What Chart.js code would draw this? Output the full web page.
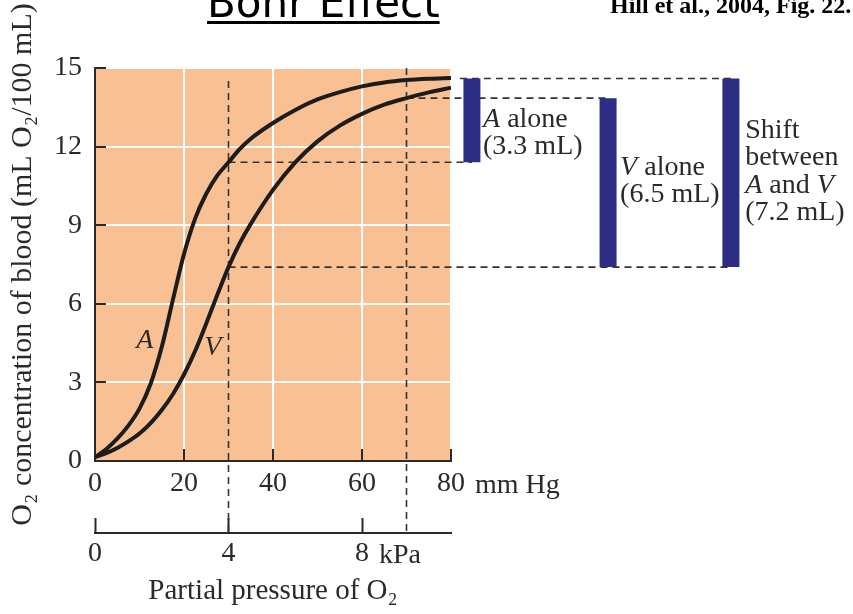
<!DOCTYPE html>
<html><head><meta charset="utf-8">
<script src="https://cdn.jsdelivr.net/npm/chart.js@4.4.0/dist/chart.umd.min.js"></script>
<style>html,body{margin:0;padding:0;background:#fff;overflow:hidden}canvas{display:block}</style>
</head><body>
<canvas id="c" width="853" height="614"></canvas>
<script>
// ---- data ----
const pO2 = [0, 2.5, 5, 7.5, 10, 12.5, 15, 17.5, 20, 22.5, 25, 27.5, 30, 32.5, 35, 40, 45, 50, 55, 60, 65, 70, 75, 80]; // mm Hg
const arterialA = [0.15, 0.45, 0.85, 1.35, 2.0, 2.95, 4.35, 6.15, 7.9, 9.25, 10.2, 10.9, 11.4, 11.9, 12.3, 12.9, 13.4, 13.8, 14.08, 14.3, 14.45, 14.54, 14.59, 14.62];
const venousV  = [0.15, 0.3, 0.5, 0.75, 1.05, 1.45, 1.95, 2.55, 3.3, 4.2, 5.25, 6.35, 7.4, 8.3, 9.05, 10.35, 11.4, 12.2, 12.8, 13.25, 13.6, 13.85, 14.07, 14.25];
const mmHgTicks = [0, 20, 40, 60, 80];
const kPaTicks = [0, 4, 8];
const yTicks = [0, 3, 6, 9, 12, 15];
const mmHgPerKPa = 7.5;
// reference guides (mm Hg) and their top level (mL O2/100 mL)
const guideX = [30, 70];
const guideTop = [14.5, 15];
// dashed level lines: level, from x, to x
const hLevels = [14.6, 13.85, 11.4, 7.4];
const hFrom = [82, 70, 30, 30];
const hTo = [142.9, 115.3, 84.7, 142.9];
// difference bars: x position (in mm Hg units, right of plot), low, high
const barNames = ['A alone', 'V alone', 'Shift between A and V'];
const barX = [84.7, 115.3, 142.9];
const barLow = [11.4, 7.4, 7.4];
const barHigh = [14.6, 13.85, 14.6];

const ink = '#2a2a2a';
const serif = "'Liberation Serif', 'Times New Roman', serif";
const navy = '#2d2e83';
const peach = '#f8c093';

// annotation texts: anchor (x in mm Hg, first baseline in mL), lines of [text, italic]
const notes = [
  {x: 87.2, y: 12.75, lines: [[['A', 1], [' alone', 0]], [['(3.3 mL)', 0]]]},
  {x: 118.0, y: 10.92, lines: [[['V', 1], [' alone', 0]], [['(6.5 mL)', 0]]]},
  {x: 146.1, y: 12.33, lines: [[['Shift', 0]], [['between', 0]], [['A', 1], [' and ', 0], ['V', 1]], [['(7.2 mL)', 0]]]}
];
const curveLabels = [{t: 'A', x: 11.2, y: 4.3}, {t: 'V', x: 26.5, y: 4.05}];

function pts(xs, ys) { return xs.map((x, i) => ({x: x, y: ys[i]})); }

const datasets = [
  {data: pts(pO2, arterialA), borderColor: '#1c1c1c', borderWidth: 4, pointRadius: 0, cubicInterpolationMode: 'monotone', fill: false},
  {data: pts(pO2, venousV), borderColor: '#1c1c1c', borderWidth: 4, pointRadius: 0, cubicInterpolationMode: 'monotone', fill: false}
];
barX.forEach((bx, i) => datasets.push({
  data: [{x: bx, y: barLow[i]}, {x: bx, y: barHigh[i]}], borderColor: navy, borderWidth: 17,
  borderCapStyle: 'butt', pointRadius: 0, clip: false, fill: false
}));
hLevels.forEach((lv, i) => datasets.push({
  data: [{x: hFrom[i], y: lv}, {x: hTo[i], y: lv}], borderColor: '#333', borderWidth: 1.6,
  borderDash: [7, 5], pointRadius: 0, clip: false, fill: false
}));

const fontTick = {family: serif, size: 28, lineHeight: 1.2};

const deco = {
  id: 'deco',
  beforeDraw(chart) {
    const {ctx, chartArea: a} = chart;
    ctx.save();
    ctx.fillStyle = peach;
    ctx.fillRect(a.left, a.top, a.right - a.left, a.bottom - a.top);
    ctx.restore();
  },
  beforeDatasetsDraw(chart) {
    const {ctx, scales} = chart;
    const {x, y, x2} = scales;
    ctx.save();
    ctx.strokeStyle = '#333';
    ctx.lineWidth = 1.6;
    ctx.setLineDash([7, 5]);
    guideX.forEach((gx, i) => {
      const px = x.getPixelForValue(gx);
      ctx.beginPath();
      ctx.moveTo(px, y.getPixelForValue(guideTop[i]));
      ctx.lineTo(px, x2.top);
      ctx.stroke();
    });
    ctx.restore();
  },
  afterDraw(chart) {
    const {ctx, scales} = chart;
    const {x, y, x2} = scales;
    ctx.save();
    // title
    ctx.fillStyle = '#000';
    ctx.font = '42px "DejaVu Sans", sans-serif';
    ctx.textAlign = 'left';
    ctx.textBaseline = 'alphabetic';
    const title = 'Bohr Effect';
    ctx.fillText(title, 207, 17);
    const tw = ctx.measureText(title).width;
    ctx.fillRect(207, 21, tw, 3);
    // citation
    ctx.font = "bold 24px " + serif;
    ctx.fillText('Hill et al., 2004, Fig. 22.', 610, 12.5);
    // units
    ctx.fillStyle = ink;
    ctx.font = '28px ' + serif;
    ctx.fillText('mm Hg', x.getPixelForValue(80) + 24, x.top + 32);
    ctx.fillText('kPa', x2.getPixelForValue(8) + 17, x2.top + 30);
    // curve labels
    ctx.font = 'italic 28px ' + serif;
    ctx.textAlign = 'center';
    curveLabels.forEach(c => ctx.fillText(c.t, x.getPixelForValue(c.x), y.getPixelForValue(c.y)));
    // notes
    ctx.textAlign = 'left';
    notes.forEach(n => {
      const x0 = x.getPixelForValue(n.x);
      let by = y.getPixelForValue(n.y);
      n.lines.forEach(line => {
        let cx = x0;
        line.forEach(seg => {
          ctx.font = (seg[1] ? 'italic ' : '') + '28px ' + serif;
          ctx.fillText(seg[0], cx, by);
          cx += ctx.measureText(seg[0]).width;
        });
        by += 27.3;
      });
    });
    ctx.restore();
  }
};

new Chart(document.getElementById('c').getContext('2d'), {
  type: 'line',
  data: {datasets: datasets},
  options: {
    responsive: false, animation: false, devicePixelRatio: 1,
    layout: {padding: {top: 68, right: 402, bottom: 0, left: 0}},
    plugins: {legend: {display: false}, tooltip: {enabled: false}, title: {display: false}},
    scales: {
      x: {
        type: 'linear', position: 'bottom', min: 0, max: 80, weight: 0,
        afterBuildTicks: s => { s.ticks = mmHgTicks.map(v => ({value: v})); },
        afterFit: s => { s.height = 72; },
        grid: {color: '#ffffff', lineWidth: 2, tickColor: ink, tickWidth: 2, tickLength: -12},
        border: {color: ink, width: 2},
        ticks: {color: ink, font: fontTick, padding: 18, maxRotation: 0, autoSkip: false}
      },
      x2: {
        type: 'linear', position: 'bottom', min: 0, max: 80 / mmHgPerKPa, weight: 1,
        afterBuildTicks: s => { s.ticks = kPaTicks.map(v => ({value: v})); },
        afterFit: s => { s.height = 81; },
        grid: {drawOnChartArea: false, tickColor: ink, tickWidth: 2, tickLength: -15},
        border: {color: ink, width: 2},
        ticks: {color: ink, font: fontTick, padding: 19, maxRotation: 0, autoSkip: false},
        title: {display: true, text: 'Partial pressure of O₂', color: ink, font: {family: serif, size: 29, lineHeight: 1.2}, padding: {top: 0, bottom: 5}}
      },
      y: {
        type: 'linear', position: 'left', min: 0, max: 15,
        afterBuildTicks: s => { s.ticks = yTicks.map(v => ({value: v})); },
        afterFit: s => { s.width = 95; },
        grid: {color: '#ffffff', lineWidth: 2, tickColor: ink, tickWidth: 2, tickLength: -11},
        border: {color: ink, width: 2},
        ticks: {color: ink, font: fontTick, padding: 24, autoSkip: false},
        title: {display: true, text: 'O₂ concentration of blood (mL O₂/100 mL)', color: ink, font: {family: serif, size: 30, lineHeight: 1.2}, padding: {top: 5, bottom: 0}}
      }
    }
  },
  plugins: [deco]
});
</script>
</body></html>
